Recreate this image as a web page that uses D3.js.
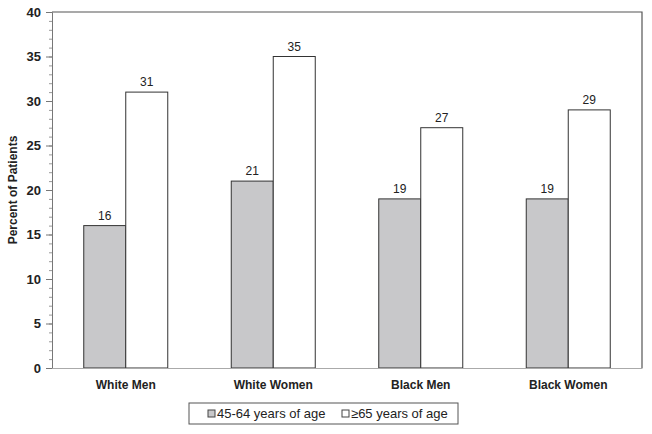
<!DOCTYPE html>
<html>
<head>
<meta charset="utf-8">
<script src="https://cdn.jsdelivr.net/npm/d3@7"></script>
<style>
  body { margin: 0; background: #fff; }
  svg { font-family: "Liberation Sans", Arial, sans-serif; }
</style>
</head>
<body>
<div id="chart"></div>
<script>
const categories = ["White Men", "White Women", "Black Men", "Black Women"];
const seriesNames = ["45-64 years of age", "\u226565 years of age"];
const age45to64 = [16, 21, 19, 19];
const age65plus = [31, 35, 27, 29];
const yTicks = [0, 5, 10, 15, 20, 25, 30, 35, 40];

const width = 652, height = 434;
const margin = { top: 12, right: 10, bottom: 66, left: 52 };
const plotW = width - margin.left - margin.right;
const plotH = height - margin.top - margin.bottom;
const colors = ["#c8c8ca", "#ffffff"];

const svg = d3.select("#chart").append("svg")
  .attr("width", width).attr("height", height);

const x = d3.scaleBand().domain(categories).range([0, plotW]);
const xInner = d3.scaleBand().domain([0, 1]).range([0, 84]);
const y = d3.scaleLinear().domain([0, 40]).range([plotH, 0]);

const g = svg.append("g")
  .attr("transform", `translate(${margin.left},${margin.top})`);

// frame (top + right)
g.append("path")
  .attr("d", `M0,0H${plotW}V${plotH}`)
  .attr("fill", "none").attr("stroke", "#555").attr("stroke-width", 1.2);

// bars
const series = [age45to64, age65plus];
series.forEach((vals, si) => {
  g.selectAll(".bar" + si)
    .data(vals)
    .enter().append("rect")
    .attr("x", (d, i) => x(categories[i]) + x.bandwidth() / 2 - 42 + xInner(si))
    .attr("y", d => y(d))
    .attr("width", xInner.bandwidth())
    .attr("height", d => plotH - y(d))
    .attr("fill", colors[si])
    .attr("stroke", "#333").attr("stroke-width", 1);

  g.selectAll(".lab" + si)
    .data(vals)
    .enter().append("text")
    .attr("x", (d, i) => x(categories[i]) + x.bandwidth() / 2 - 42 + xInner(si) + xInner.bandwidth() / 2)
    .attr("y", d => y(d) - 6)
    .attr("text-anchor", "middle")
    .attr("font-size", 12).attr("fill", "#222")
    .text(d => d);
});

// minor ticks
g.append("g")
  .call(d3.axisLeft(y).ticks(40).tickSize(3).tickFormat(""))
  .call(a => a.select(".domain").remove())
  .selectAll("line").attr("stroke", "#999");

// y axis
const yAxis = g.append("g")
  .call(d3.axisLeft(y).tickValues(yTicks).tickSize(6).tickPadding(5));
yAxis.select(".domain").attr("stroke", "#777");
yAxis.selectAll("line").attr("stroke", "#777");
yAxis.selectAll("text").attr("font-size", 13).attr("font-weight", "bold").attr("fill", "#222");

// x axis
const xAxis = g.append("g")
  .attr("transform", `translate(0,${plotH})`)
  .call(d3.axisBottom(x).tickSize(0).tickPadding(12));
xAxis.select(".domain").attr("stroke", "#aaa");
xAxis.selectAll("text").attr("font-size", 12).attr("font-weight", "bold").attr("fill", "#222");

// y label
svg.append("text")
  .attr("transform", `translate(17,${margin.top + plotH / 2}) rotate(-90)`)
  .attr("text-anchor", "middle")
  .attr("font-size", 12).attr("font-weight", "bold").attr("fill", "#222")
  .text("Percent of Patients");

// legend
const leg = svg.append("g").attr("transform", "translate(189,403)");
leg.append("rect").attr("width", 269).attr("height", 21)
  .attr("fill", "#fff").attr("stroke", "#555").attr("stroke-width", 1);
const legX = [19, 153];
seriesNames.forEach((name, i) => {
  leg.append("rect").attr("x", legX[i]).attr("y", 7).attr("width", 7).attr("height", 7)
    .attr("fill", colors[i]).attr("stroke", "#444");
  leg.append("text").attr("x", legX[i] + 9).attr("y", 15)
    .attr("font-size", 13).attr("fill", "#222").text(name);
});
</script>
</body>
</html>
